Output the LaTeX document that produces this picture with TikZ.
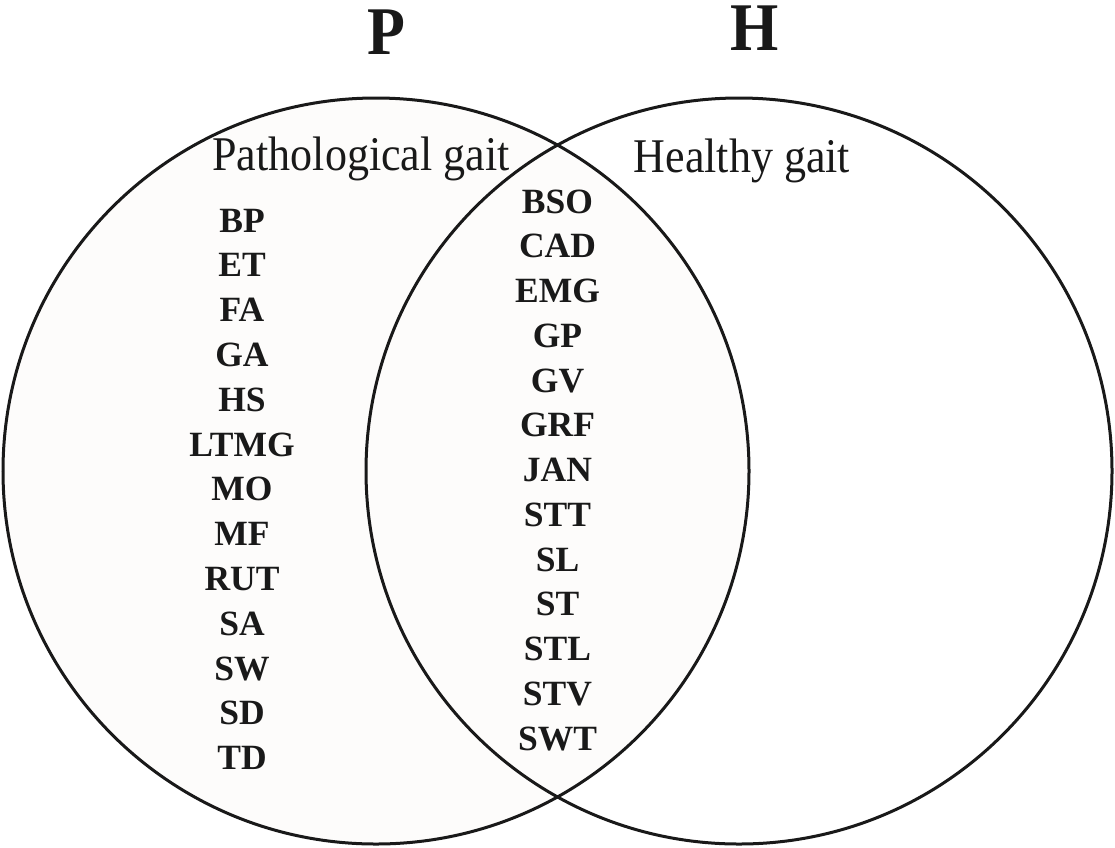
\documentclass[tikz,border=0pt]{standalone}
\usepackage{fontspec}
\setmainfont{Liberation Serif}
\usetikzlibrary{positioning}
\definecolor{pathfill}{RGB}{253,252,251}
\definecolor{ink}{RGB}{25,25,25}
\tikzset{
set/.style={circle, draw=ink, line width=3pt, minimum size=746pt, inner sep=0pt}, % the two sets
setname/.style={text=ink, anchor=base, inner sep=0pt, font=\fontsize{62}{62}\selectfont\bfseries}, % P and H
caption/.style={text=ink, anchor=base, inner sep=0pt, font=\fontsize{44}{44}\selectfont}, % gait captions
item/.style={text=ink, anchor=base, inner sep=0pt, font=\fontsize{35.5}{35.5}\selectfont\bfseries}, % parameter labels
}

\begin{document}
\begin{tikzpicture}[x=1pt, y=-1pt]
                \useasboundingbox (0,0) rectangle (1115,847);
                \node[set, fill=pathfill] (path) at (376,471) {};
                \node[set, right of=path, node distance=363pt] (health) {};
                \node[setname] (P) at (386,54) {\scalebox{1}[1.1]{P}};
                \node[setname] (H) at (755,50) {\scalebox{1}[1.1]{H}};
                \node[caption] (pathcap) at (361,170) {\scalebox{1}[1.1]{Pathological gait}};
                \node[caption] (healthcap) at (742,172) {\scalebox{1}[1.1]{Healthy gait}};
                % pathological only
                \foreach \lbl [count=\i] in {BP,ET,FA,GA,HS,LTMG,MO,MF,RUT,SA,SW,SD,TD}
                    \node[item] (p\i) at (242,{232+44.8*(\i-1)}) {\lbl};
                % both
                \foreach \lbl [count=\i] in {BSO,CAD,EMG,GP,GV,GRF,JAN,STT,SL,ST,STL,STV,SWT}
                    \node[item] (b\i) at (557.5,{213+44.75*(\i-1)}) {\lbl};
                \end{tikzpicture}
\end{document}
